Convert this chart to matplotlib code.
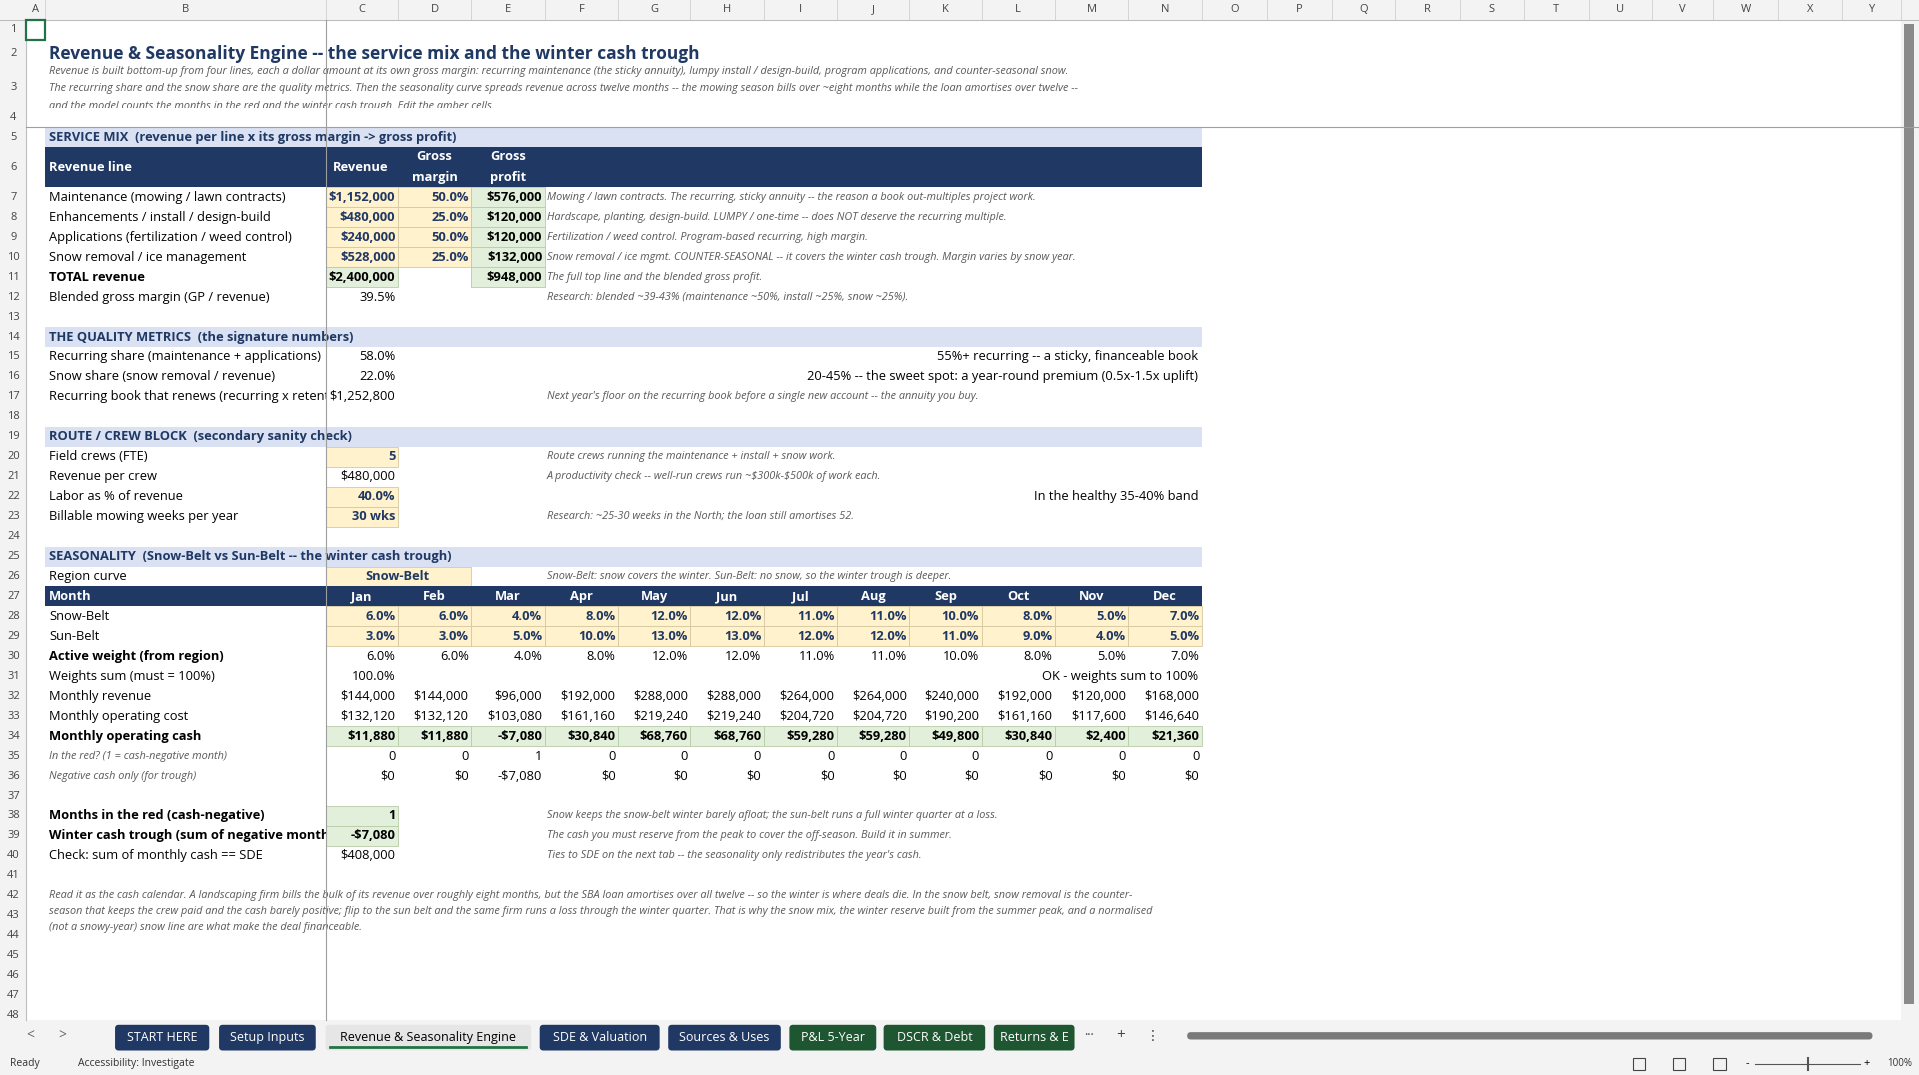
import matplotlib
matplotlib.use("Agg")
import matplotlib.pyplot as plt
from matplotlib.patches import Rectangle, FancyBboxPatch

plt.rcParams['font.family'] = ['Open Sans', 'DejaVu Sans']

W, H = 1568, 878
fig = plt.figure(figsize=(19.19, 10.75), dpi=100)
ax = fig.add_axes([0, 0, 1, 1])
ax.set_xlim(0, W); ax.set_ylim(H, 0); ax.axis('off')

NAVY = '#1F3864'; BAND = '#D9E1F2'; AMBER = '#FFF2CC'; GREEN = '#E2EFDA'
FS = 9.3; NS = 7.85

col_letters = list("ABCDEFGHIJKLMNOPQRSTUVWXY")
col_edges = [21, 37, 266, 325, 385, 445, 505, 564, 624, 684, 743, 802, 862, 922, 982,
             1035, 1088, 1140, 1193, 1245, 1298, 1350, 1400, 1453, 1505, 1553]
def cl(c): return col_edges[col_letters.index(c)]
def cr(c): return col_edges[col_letters.index(c) + 1]

row_top = {1: 16, 2: 33, 3: 55, 4: 88, 5: 104, 6: 120, 7: 153}
for r in range(8, 50):
    row_top[r] = 153 + (r - 7) * 16.3
def rt(r): return row_top[r]
def rb(r): return row_top[r + 1]
def rc(r): return (rt(r) + rb(r)) / 2

def rect(x0, y0, x1, y1, fc, ec='none', lw=0.6, z=1):
    ax.add_patch(Rectangle((x0, y0), x1 - x0, y1 - y0, facecolor=fc, edgecolor=ec, lw=lw, zorder=z))

def txt(x, y, s, ha='left', size=FS, color='black', weight='normal', style='normal', z=5, clip=None, **kw):
    t = ax.text(x, y, s, ha=ha, va='center', fontsize=size, color=color, weight=weight, style=style,
                zorder=z, parse_math=False, **kw)
    if clip is not None:
        t.set_clip_on(True)
        t.set_clip_path(Rectangle((clip[0], clip[1]), clip[2] - clip[0], clip[3] - clip[1],
                                  transform=ax.transData))
    return t

def note(r, s):
    txt(447, rc(r), s, size=NS, style='italic', color='#595959')

# ---------------- headers ----------------
rect(0, 0, W, H, 'white', z=0)
rect(0, 0, W, 16, '#F3F3F3')
rect(0, 16, 21, 833, '#F3F3F3')
for i, c in enumerate(col_letters):
    x0, x1 = col_edges[i], col_edges[i + 1]
    txt((x0 + x1) / 2, 8, c, ha='center', size=8, color='#444444')
    ax.plot([x1, x1], [0, 16], color='#D0D0D0', lw=0.6, zorder=2)
for r in range(1, 49):
    txt(11, rc(r), str(r), ha='center', size=8, color='#444444')
ax.plot([0, W], [16, 16], color='#BDBDBD', lw=0.8, zorder=2)
ax.plot([21, 21], [16, 833], color='#BDBDBD', lw=0.8, zorder=2)
rect(21, 16, 37, 33, 'none', ec='#217346', lw=1.6, z=6)
ax.plot([266, 266], [16, 833], color='#9E9E9E', lw=0.8, zorder=7)
ax.plot([21, W], [104, 104], color='#9E9E9E', lw=0.8, zorder=7)
rect(1553, 0, 1568, 833, '#F3F3F3')
rect(1556, 20, 1564, 820, '#8A8A8A')

# ---------------- title ----------------
txt(40, 44, "Revenue & Seasonality Engine -- the service mix and the winter cash trough", size=12.5, weight='bold', color=NAVY)
intro = ["Revenue is built bottom-up from four lines, each a dollar amount at its own gross margin: recurring maintenance (the sticky annuity), lumpy install / design-build, program applications, and counter-seasonal snow.",
         "The recurring share and the snow share are the quality metrics. Then the seasonality curve spreads revenue across twelve months -- the mowing season bills over ~eight months while the loan amortises over twelve --",
         "and the model counts the months in the red and the winter cash trough. Edit the amber cells."]
for i, s in enumerate(intro):
    txt(40, 58 + i * 14.5, s, size=NS, color='#595959', style='italic', clip=(37, 53, 1500, 88))

def band(r, s):
    rect(37, rt(r), 982, rb(r), BAND)
    txt(40, rc(r), s, weight='bold', color=NAVY)

# ---------------- service mix ----------------
band(5, "SERVICE MIX  (revenue per line x its gross margin -> gross profit)")
rect(37, rt(6), 982, rb(6), NAVY)
txt(40, rc(6), "Revenue line", weight='bold', color='white')
txt(295, rc(6), "Revenue", ha='center', weight='bold', color='white')
for c, a, b in [('D', 'Gross', 'margin'), ('E', 'Gross', 'profit')]:
    xm = (cl(c) + cr(c)) / 2
    txt(xm, rt(6) + 8, a, ha='center', weight='bold', color='white')
    txt(xm, rt(6) + 25, b, ha='center', weight='bold', color='white')

rev_lines = ["Maintenance (mowing / lawn contracts)", "Enhancements / install / design-build",
             "Applications (fertilization / weed control)", "Snow removal / ice management"]
revenue = [1152000, 480000, 240000, 528000]
margin = [50.0, 25.0, 50.0, 25.0]
gprofit = [576000, 120000, 120000, 132000]
rev_notes = ["Mowing / lawn contracts. The recurring, sticky annuity -- the reason a book out-multiples project work.",
             "Hardscape, planting, design-build. LUMPY / one-time -- does NOT deserve the recurring multiple.",
             "Fertilization / weed control. Program-based recurring, high margin.",
             "Snow removal / ice mgmt. COUNTER-SEASONAL -- it covers the winter cash trough. Margin varies by snow year."]
total_rev, total_gp, blended = 2400000, 948000, 39.5

def money(v):
    return ("-$" if v < 0 else "$") + f"{abs(v):,.0f}"

def cell(c, r, s, fc=None, weight='normal', ha='right', color='black', style='normal', size=FS):
    if fc:
        rect(cl(c), rt(r), cr(c), rb(r), fc, ec='#D6C9A0' if fc == AMBER else '#B8CCA8', lw=0.6)
    if ha == 'right':
        txt(cr(c) - 2, rc(r), s, ha='right', weight=weight, color=color, style=style, size=size)
    else:
        txt((cl(c) + cr(c)) / 2, rc(r), s, ha='center', weight=weight, color=color, style=style, size=size)

for i in range(4):
    r = 7 + i
    txt(40, rc(r), rev_lines[i])
    cell('C', r, money(revenue[i]), AMBER, weight='bold', color=NAVY)
    cell('D', r, f"{margin[i]:.1f}%", AMBER, weight='bold', color=NAVY)
    cell('E', r, money(gprofit[i]), GREEN, weight='bold')
    note(r, rev_notes[i])
txt(40, rc(11), "TOTAL revenue", weight='bold')
cell('C', 11, money(total_rev), GREEN, weight='bold')
cell('E', 11, money(total_gp), GREEN, weight='bold')
note(11, "The full top line and the blended gross profit.")
txt(40, rc(12), "Blended gross margin (GP / revenue)")
cell('C', 12, f"{blended:.1f}%")
note(12, "Research: blended ~39-43% (maintenance ~50%, install ~25%, snow ~25%).")

# ---------------- quality ----------------
band(14, "THE QUALITY METRICS  (the signature numbers)")
txt(40, rc(15), "Recurring share (maintenance + applications)")
cell('C', 15, "58.0%")
txt(979, rc(15), "55%+ recurring -- a sticky, financeable book", ha='right')
txt(40, rc(16), "Snow share (snow removal / revenue)")
cell('C', 16, "22.0%")
txt(979, rc(16), "20-45% -- the sweet spot: a year-round premium (0.5x-1.5x uplift)", ha='right')
txt(40, rc(17), "Recurring book that renews (recurring x retention)", clip=(37, rt(17), 266, rb(17)))
cell('C', 17, "$1,252,800")
note(17, "Next year's floor on the recurring book before a single new account -- the annuity you buy.")

# ---------------- route ----------------
band(19, "ROUTE / CREW BLOCK  (secondary sanity check)")
route = [("Field crews (FTE)", "5", AMBER, "Route crews running the maintenance + install + snow work."),
         ("Revenue per crew", "$480,000", None, "A productivity check -- well-run crews run ~$300k-$500k of work each."),
         ("Labor as % of revenue", "40.0%", AMBER, ""),
         ("Billable mowing weeks per year", "30 wks", AMBER, "Research: ~25-30 weeks in the North; the loan still amortises 52.")]
for i, (lab, v, fc, nt) in enumerate(route):
    r = 20 + i
    txt(40, rc(r), lab)
    cell('C', r, v, fc, weight='bold' if fc else 'normal', color=NAVY if fc else 'black')
    if nt:
        note(r, nt)
txt(979, rc(22), "In the healthy 35-40% band", ha='right')

# ---------------- seasonality ----------------
band(25, "SEASONALITY  (Snow-Belt vs Sun-Belt -- the winter cash trough)")
txt(40, rc(26), "Region curve")
rect(266, rt(26), 385, rb(26), AMBER, ec='#D6C9A0', lw=0.6)
txt(325, rc(26), "Snow-Belt", ha='center', weight='bold', color=NAVY)
note(26, "Snow-Belt: snow covers the winter. Sun-Belt: no snow, so the winter trough is deeper.")

months = ["Jan", "Feb", "Mar", "Apr", "May", "Jun", "Jul", "Aug", "Sep", "Oct", "Nov", "Dec"]
snow_belt = [6.0, 6.0, 4.0, 8.0, 12.0, 12.0, 11.0, 11.0, 10.0, 8.0, 5.0, 7.0]
sun_belt = [3.0, 3.0, 5.0, 10.0, 13.0, 13.0, 12.0, 12.0, 11.0, 9.0, 4.0, 5.0]
monthly_rev = [144000, 144000, 96000, 192000, 288000, 288000, 264000, 264000, 240000, 192000, 120000, 168000]
monthly_cost = [132120, 132120, 103080, 161160, 219240, 219240, 204720, 204720, 190200, 161160, 117600, 146640]
monthly_cash = [11880, 11880, -7080, 30840, 68760, 68760, 59280, 59280, 49800, 30840, 2400, 21360]
in_red = [0, 0, 1, 0, 0, 0, 0, 0, 0, 0, 0, 0]
neg_cash = [0, 0, -7080, 0, 0, 0, 0, 0, 0, 0, 0, 0]
mcols = list("CDEFGHIJKLMN")

rect(37, rt(27), 982, rb(27), NAVY)
txt(40, rc(27), "Month", weight='bold', color='white')
for c, m in zip(mcols, months):
    txt((cl(c) + cr(c)) / 2, rc(27), m, ha='center', weight='bold', color='white')

txt(40, rc(28), "Snow-Belt"); txt(40, rc(29), "Sun-Belt")
txt(40, rc(30), "Active weight (from region)", weight='bold')
txt(40, rc(31), "Weights sum (must = 100%)")
txt(40, rc(32), "Monthly revenue"); txt(40, rc(33), "Monthly operating cost")
txt(40, rc(34), "Monthly operating cash", weight='bold')
txt(40, rc(35), "In the red? (1 = cash-negative month)", size=NS, style='italic', color='#595959')
txt(40, rc(36), "Negative cash only (for trough)", size=NS, style='italic', color='#595959')
for i, c in enumerate(mcols):
    cell(c, 28, f"{snow_belt[i]:.1f}%", AMBER, weight='bold', color=NAVY)
    cell(c, 29, f"{sun_belt[i]:.1f}%", AMBER, weight='bold', color=NAVY)
    cell(c, 30, f"{snow_belt[i]:.1f}%")
    cell(c, 32, money(monthly_rev[i]))
    cell(c, 33, money(monthly_cost[i]))
    cell(c, 34, money(monthly_cash[i]), GREEN, weight='bold')
    cell(c, 35, str(in_red[i]))
    cell(c, 36, money(neg_cash[i]))
cell('C', 31, "100.0%")
txt(979, rc(31), "OK - weights sum to 100%", ha='right')

txt(40, rc(38), "Months in the red (cash-negative)", weight='bold')
cell('C', 38, "1", GREEN, weight='bold')
note(38, "Snow keeps the snow-belt winter barely afloat; the sun-belt runs a full winter quarter at a loss.")
txt(40, rc(39), "Winter cash trough (sum of negative months)", weight='bold', clip=(37, rt(39), 266, rb(39)))
cell('C', 39, "-$7,080", GREEN, weight='bold')
note(39, "The cash you must reserve from the peak to cover the off-season. Build it in summer.")
txt(40, rc(40), "Check: sum of monthly cash == SDE")
cell('C', 40, "$408,000")
note(40, "Ties to SDE on the next tab -- the seasonality only redistributes the year's cash.")

outro = ["Read it as the cash calendar. A landscaping firm bills the bulk of its revenue over roughly eight months, but the SBA loan amortises over all twelve -- so the winter is where deals die. In the snow belt, snow removal is the counter-",
         "season that keeps the crew paid and the cash barely positive; flip to the sun belt and the same firm runs a loss through the winter quarter. That is why the snow mix, the winter reserve built from the summer peak, and a normalised",
         "(not a snowy-year) snow line are what make the deal financeable."]
for i, s in enumerate(outro):
    txt(40, 731 + i * 13.2, s, size=NS, style='italic', color='#595959')

# ---------------- tabs / status ----------------
rect(0, 833, W, H, '#F3F3F3')
txt(25, 846, "<", ha='center', size=10, color='#666666')
txt(51, 846, ">", ha='center', size=10, color='#666666')
tabs = [("START HERE", 94, 171, NAVY, 'white'), ("Setup Inputs", 179, 258, NAVY, 'white'),
        ("Revenue & Seasonality Engine", 266, 434, '#E6E6E6', 'black'),
        ("SDE & Valuation", 441, 539, NAVY, 'white'), ("Sources & Uses", 546, 638, NAVY, 'white'),
        ("P&L 5-Year", 645, 716, '#1E5631', 'white'), ("DSCR & Debt", 722, 805, '#1E5631', 'white'),
        ("Returns & E", 812, 878, '#1E5631', 'white')]
for name, x0, x1, fc, tc in tabs:
    ax.add_patch(FancyBboxPatch((x0, 837), x1 - x0, 21, boxstyle="round,pad=0,rounding_size=3", facecolor=fc, edgecolor='none', zorder=3))
    txt((x0 + x1) / 2, 847, name, ha='center', size=9, color=tc, clip=(x0, 837, x1, 858))
ax.plot([270, 430], [855, 855], color='#217346', lw=2, zorder=6)
txt(890, 846, "···", ha='center', size=9, color='#444444')
txt(916, 846, "+", ha='center', size=11, color='#444444')
txt(942, 846, "⋮", ha='center', size=10, color='#444444', family='DejaVu Sans')
ax.add_patch(FancyBboxPatch((970, 843), 560, 6, boxstyle="round,pad=0,rounding_size=3", facecolor='#7A7A7A', edgecolor='none', zorder=3))
txt(8, 869, "Ready", size=7.5, color='#333333')
txt(64, 869, "Accessibility: Investigate", size=7.5, color='#333333')
ax.plot([1434, 1520], [869, 869], color='#555555', lw=0.8, zorder=4)
ax.plot([1477, 1477], [864, 874], color='#555555', lw=1.5, zorder=4)
txt(1552, 869, "100%", ha='center', size=7, color='#333333')
txt(1428, 869, "-", ha='center', size=8); txt(1525, 869, "+", ha='center', size=8)
for xx in (1339, 1372, 1405):
    rect(xx - 5, 864, xx + 5, 874, 'none', ec='#444444', lw=0.8, z=4)

fig.savefig("out.png", dpi=100)
